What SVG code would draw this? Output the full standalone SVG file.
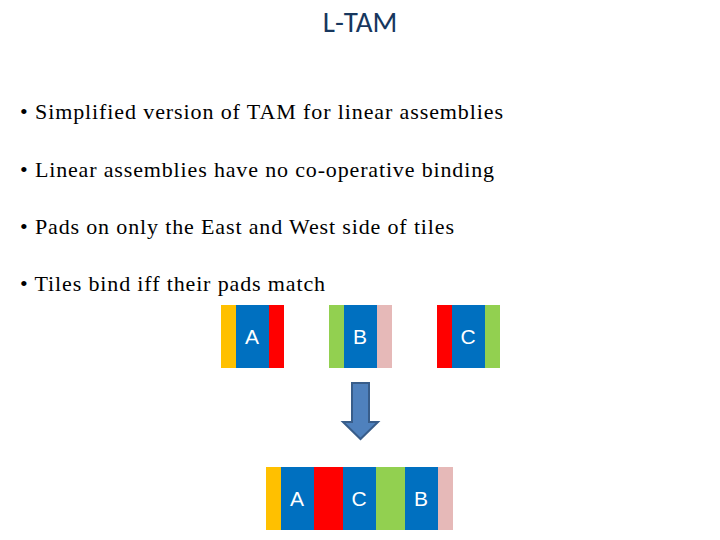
<svg xmlns="http://www.w3.org/2000/svg" width="720" height="540" viewBox="0 0 720 540">
<style>
.b{font-family:"Liberation Serif",serif;font-size:22px;fill:#000}
.l{font-family:"Liberation Sans",Arial,sans-serif;font-size:21px;fill:#fff;text-anchor:middle}
.y{fill:#FFC000}.u{fill:#0070C0}.r{fill:#FF0000}.g{fill:#92D050}.p{fill:#E6B9B8}
</style>
<rect width="720" height="540" fill="#fff"/>
<text x="360" y="32" text-anchor="middle" font-family="Carlito,'Liberation Sans',sans-serif" font-size="29" fill="#17375E">L-TAM</text>
<text class="b" x="20" y="119" textLength="483" lengthAdjust="spacing">• Simplified version of TAM for linear assemblies</text>
<text class="b" x="20" y="177" textLength="474" lengthAdjust="spacing">• Linear assemblies have no co-operative binding</text>
<text class="b" x="20" y="234" textLength="434" lengthAdjust="spacing">• Pads on only the East and West side of tiles</text>
<text class="b" x="20" y="291" textLength="305" lengthAdjust="spacing">• Tiles bind iff their pads match</text>
<g id="tileA"><rect class="y" x="221" y="305" width="15" height="63"/><rect class="u" x="236" y="305" width="33" height="63"/><rect class="r" x="269" y="305" width="15" height="63"/><text class="l" x="252" y="344">A</text></g>
<g id="tileB"><rect class="g" x="329" y="305" width="15" height="63"/><rect class="u" x="344" y="305" width="33" height="63"/><rect class="p" x="377" y="305" width="15" height="63"/><text class="l" x="360" y="344">B</text></g>
<g id="tileC"><rect class="r" x="437" y="305" width="15" height="63"/><rect class="u" x="452" y="305" width="33" height="63"/><rect class="g" x="485" y="305" width="15" height="63"/><text class="l" x="468" y="344">C</text></g>
<g id="connectors"><path d="M352,383 H369 V422 H378 L360.5,439 L343,422 H352 Z" fill="#4F81BD" stroke="#385D8A" stroke-width="2"/></g>
<g id="result">
<rect class="y" x="266" y="467" width="15" height="63"/><rect class="u" x="281" y="467" width="33" height="63"/><rect class="r" x="314" y="467" width="29" height="63"/><rect class="u" x="343" y="467" width="33" height="63"/><rect class="g" x="376" y="467" width="29" height="63"/><rect class="u" x="405" y="467" width="33" height="63"/><rect class="p" x="438" y="467" width="15" height="63"/>
<text class="l" x="297" y="506">A</text><text class="l" x="359" y="506">C</text><text class="l" x="421" y="506">B</text></g>
</svg>
